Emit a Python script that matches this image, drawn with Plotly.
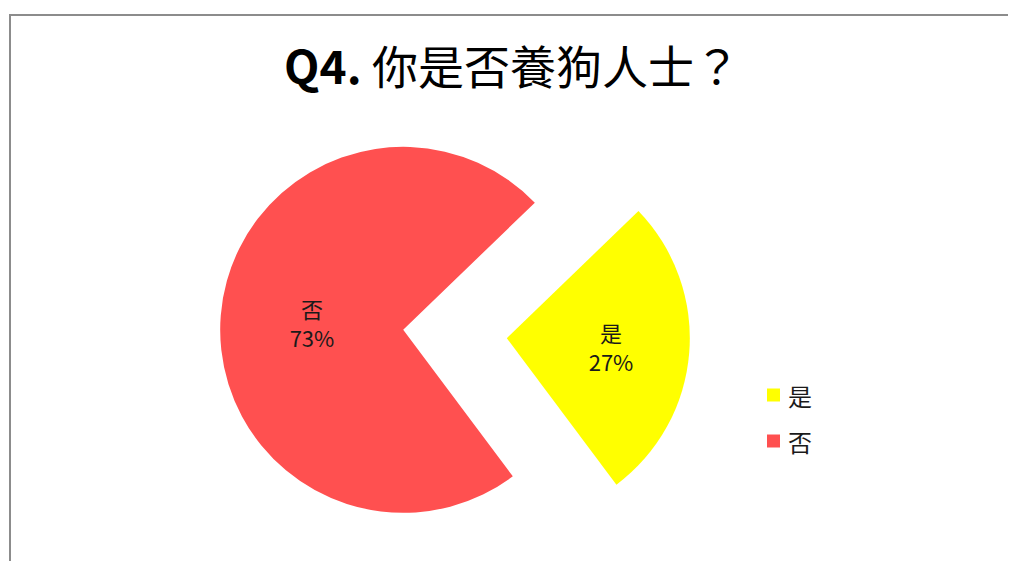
import plotly.graph_objects as go

labels = ["是", "否"]
values = [27, 73]
colors = ["#FFFF00", "#FF5050"]
title_text = "<b>Q4.</b> 你是否養狗人士？"

W, H = 1016, 561
OFF = 8  # page body margin offset
cx, cy_top = 455 - OFF, 334 - OFF
r, p = 183, 0.284
half = r * (1 + p)
dom_x = [(cx - half) / W, (cx + half) / W]
dom_y = [(H - cy_top - half) / H, (H - cy_top + half) / H]
dom_y[0] = max(0.0, dom_y[0])

fig = go.Figure()
fig.add_trace(go.Pie(
    labels=labels,
    values=values,
    sort=False,
    direction="clockwise",
    rotation=46,
    pull=[p, p],
    marker=dict(colors=colors, line=dict(width=0)),
    texttemplate="%{label}<br>%{percent:.0%}",
    textposition="inside",
    insidetextorientation="horizontal",
    textfont=dict(family="Noto Sans CJK TC", size=22, color="#1a1a1a"),
    domain=dict(x=dom_x, y=dom_y),
    showlegend=False,
    hoverinfo="label+percent",
))

# chart border
fig.add_shape(type="rect", xref="paper", yref="paper",
              x0=(10 - OFF) / W, x1=1.2, y0=-0.2, y1=1 - (15 - OFF) / H,
              line=dict(color="#8c8c8c", width=2), fillcolor="rgba(0,0,0,0)", layer="below")

# custom legend
leg_y = [395 - OFF, 441 - OFF]
for lab, col, yy in zip(labels, colors, leg_y):
    fig.add_shape(type="rect", xref="paper", yref="paper",
                  x0=(767 - OFF) / W, x1=(780 - OFF) / W, y0=1 - (yy + 6.5) / H, y1=1 - (yy - 6.5) / H,
                  line=dict(width=0), fillcolor=col)
    fig.add_annotation(xref="paper", yref="paper", x=(786 - OFF) / W, y=1 - yy / H,
                       xanchor="left", yanchor="middle", showarrow=False,
                       text=lab, font=dict(family="Noto Sans CJK TC", size=24, color="#1a1a1a"))

fig.update_layout(
    width=W, height=H,
    margin=dict(l=0, r=0, t=0, b=0),
    paper_bgcolor="white",
    plot_bgcolor="white",
    title=dict(text=title_text, x=(512 - OFF) / W, xanchor="center", y=1 - (68 - OFF) / H, yanchor="middle",
               font=dict(family="Noto Sans CJK TC", size=46, color="#000000")),
)

fig.write_html("out.html")
